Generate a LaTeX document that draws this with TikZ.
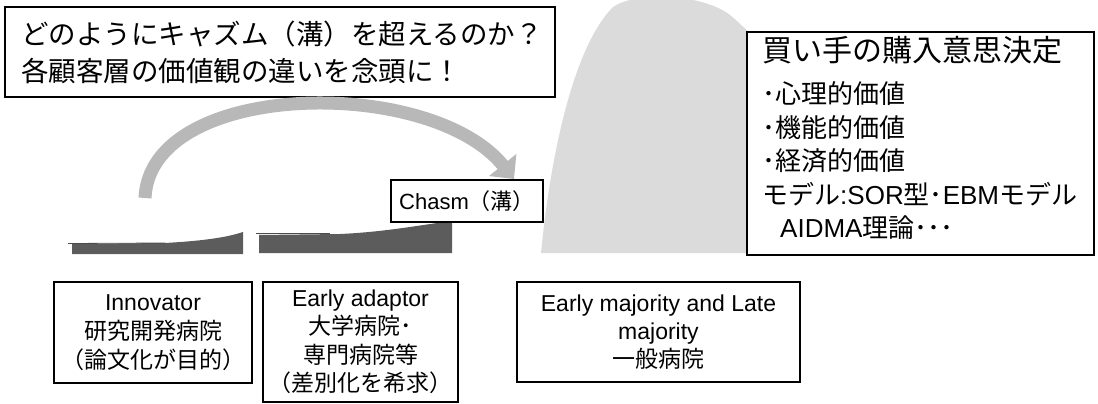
\documentclass[tikz,border=0pt]{standalone}
\usepackage{fontspec}
\setmainfont{Liberation Sans}
\newfontfamily\jp{Noto Sans CJK JP}
\usetikzlibrary{arrows.meta}
\begin{document}
\begin{tikzpicture}[x=1pt,y=-1pt,
  box/.style={draw=black, line width=1.3pt, fill=white, inner sep=0pt, align=center},
  lbox/.style={draw=black, line width=1.3pt, fill=white, inner ysep=0pt, align=left},
  hill/.style={fill=black!14, draw=none},
  bar/.style={fill=black!64, draw=none},
  bigarrow/.style={line width=13pt, draw=black!28, -{Triangle[length=18pt,width=34pt]}}
]
\useasboundingbox (0,0) rectangle (1098,404);

% gray hill
\path[hill] (541,253) .. controls (550,160) and (572,50) .. (612,8)
  .. controls (630,-8) and (700,-8) .. (730,15)
  .. controls (760,40) and (780,70) .. (800,100) -- (800,253) -- cycle;

% dark bars
\path[bar] (72,244) -- (165,243) .. controls (200,241) and (225,238) .. (243,232) -- (243,254) -- (72,254) -- cycle;
\draw[black!70, line width=0.8pt] (68,243.5) -- (165,243);
\path[bar] (259,235) -- (340,234) .. controls (385,232) and (420,225) .. (452,221) -- (452,253) -- (259,253) -- cycle;
\draw[black!70, line width=0.8pt] (256,233.5) -- (330,233.5);

% top-left question box
\node[lbox, minimum width=550pt, minimum height=90pt, text width=518pt, inner xsep=16pt,
      font=\jp\fontsize{27.5}{37}\selectfont] (q) at (280,52)
  {どのようにキャズム（溝）を超えるのか？\\各顧客層の価値観の違いを念頭に！};

% right decision box
\node[lbox, minimum width=347pt, minimum height=223pt, text width=317pt, inner xsep=15pt,
      font=\fontsize{26}{33.5}\selectfont] (d) at (920.5,143.5) {};
\node[anchor=north west, inner sep=0pt, align=left, text width=320pt,
      font=\fontsize{26}{33.5}\selectfont] (dt) at (762,36)
  {{\jp\fontsize{30}{34}\selectfont 買い手の購入意思決定}\\[9pt]
   {\jp ･心理的価値}\\
   {\jp ･機能的価値}\\
   {\jp ･経済的価値}\\
   {\jp モデル}:SOR{\jp 型･}EBM{\jp モデル}\\
   \hspace*{18pt}AIDMA{\jp 理論･･･}};

% chasm label
\node[box, minimum width=152pt, minimum height=42pt, font=\fontsize{22}{26}\selectfont] (chasm) at (467,201)
  {Chasm{\jp （溝）}};

% bottom boxes
\node[box, minimum width=198pt, minimum height=101pt, font=\fontsize{23}{29}\selectfont] (inn) at (153,332.5)
  {Innovator\\{\jp 研究開発病院}\\{\jp （論文化が目的）}};
\node[box, minimum width=195pt, minimum height=120pt, font=\fontsize{23}{28.5}\selectfont] (ea) at (360.5,342)
  {Early adaptor\\{\jp 大学病院･}\\{\jp 専門病院等}\\{\jp （差別化を希求）}};
\node[box, minimum width=283pt, minimum height=100pt, font=\fontsize{23}{28}\selectfont] (em) at (658.5,332)
  {Early majority and Late\\majority\\{\jp 一般病院}};

% curved arrow over the chasm
\coordinate (arrS) at (145,198);
\coordinate (arrE) at (514,179);
\draw[bigarrow] (arrS) .. controls (150,80) and (430,75) .. (arrE);
\end{tikzpicture}
\end{document}
